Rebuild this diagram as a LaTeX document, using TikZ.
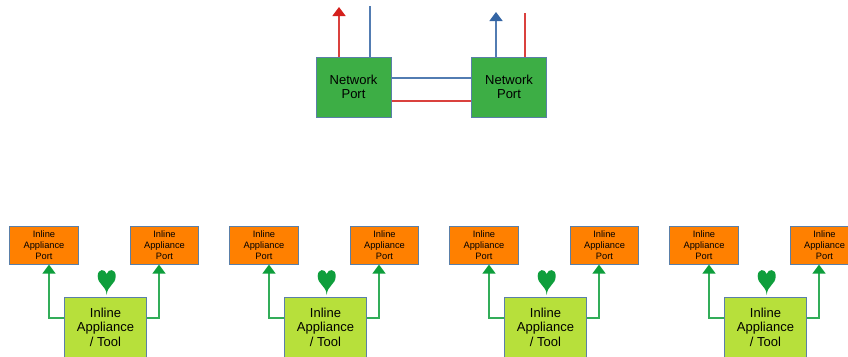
\documentclass[tikz,border=0pt]{standalone}
\usepackage{fontspec}
\setmainfont{Liberation Sans}
\usetikzlibrary{arrows.meta}
\definecolor{edgeblue}{HTML}{5A7FA8}
\definecolor{portgreen}{HTML}{3DAE45}
\definecolor{portorange}{HTML}{FF8000}
\definecolor{toollime}{HTML}{B7E03B}
\definecolor{linkred}{HTML}{D4201C}
\definecolor{linkblue}{HTML}{3465A4}
\definecolor{linkgreen}{HTML}{0E9E3C}
\begin{document}
\begin{tikzpicture}[
    x=1pt, y=-1pt,
    netport/.style={rectangle, draw=edgeblue, fill=portgreen, line width=1pt, minimum width=75pt, minimum height=60pt, inner sep=0pt, align=center, font=\fontsize{13}{14.5}\selectfont},
    appport/.style={rectangle, draw=edgeblue, fill=portorange, line width=1pt, minimum width=68.5pt, minimum height=38pt, inner sep=0pt, align=center, font=\fontsize{9.3}{10.7}\selectfont},
    toolbox/.style={rectangle, draw=edgeblue, fill=toollime, line width=1pt, minimum width=82.5pt, minimum height=76pt, inner sep=0pt},
    tooltext/.style={align=center, inner sep=0pt, font=\fontsize{13}{14.5}\selectfont},
    redlink/.style={color=linkred!85, line width=1.5pt},
    bluelink/.style={color=linkblue!85, line width=1.5pt},
    greenlink/.style={color=linkgreen!85, line width=1.5pt},
    tip/.style={-{Triangle[length=9pt, width=13pt, color=#1]}}
]
\useasboundingbox (0,0) rectangle (848,356);
\clip (0,0) rectangle (848,356);

% Network ports
\node[netport] (netleft) at (353.5,87) {Network\\Port};
\node[netport] (netright) at (509,87) {Network\\Port};

% Free ends
\coordinate (lefttipred) at (339,7);
\coordinate (leftendblue) at (370,6);
\coordinate (righttipblue) at (496,12);
\coordinate (rightendred) at (525,13);
\coordinate (levelblue) at (0,78);
\coordinate (levelred) at (0,101);

% Links
\draw[redlink, tip=linkred] (lefttipred |- netleft.north) -- (lefttipred);
\draw[bluelink] (leftendblue |- netleft.north) -- (leftendblue);
\draw[bluelink, tip=linkblue] (righttipblue |- netright.north) -- (righttipblue);
\draw[redlink] (rightendred |- netright.north) -- (rightendred);
\draw[bluelink] (netleft.east |- levelblue) -- (netright.west |- levelblue);
\draw[redlink] (netleft.east |- levelred) -- (netright.west |- levelred);

% Inline appliances
\foreach \x/\n in {0/a, 220/b, 440/c, 660/d} {
    \node[appport] (port\n l) at (44+\x,245) {Inline\\Appliance\\Port};
    \node[appport] (port\n r) at (164.5+\x,245) {Inline\\Appliance\\Port};
    \node[toolbox] (tool\n) at (105.5+\x,335) {};
    \node[tooltext] (label\n) at (105.5+\x,327.3) {Inline\\Appliance\\/ Tool};
    \coordinate (tipl\n) at (49+\x,264.6);
    \coordinate (tipr\n) at (159+\x,264.6);
    \coordinate (level\n) at (0,318);
    \draw[greenlink, tip=linkgreen] (tool\n.west |- level\n) -| (tipl\n);
    \draw[greenlink, tip=linkgreen] (tool\n.east |- level\n) -| (tipr\n);
    % Heart
    \fill[linkgreen, shift={(106.7+\x,0)}]
        (0,295) .. controls (-0.6,285) and (-9,285) .. (-9,276)
        .. controls (-9,268.5) and (-1.5,268.5) .. (0,274)
        .. controls (1.5,268.5) and (9,268.5) .. (9,276)
        .. controls (9,285) and (0.6,285) .. (0,295) -- cycle;
}
\end{tikzpicture}
\end{document}
